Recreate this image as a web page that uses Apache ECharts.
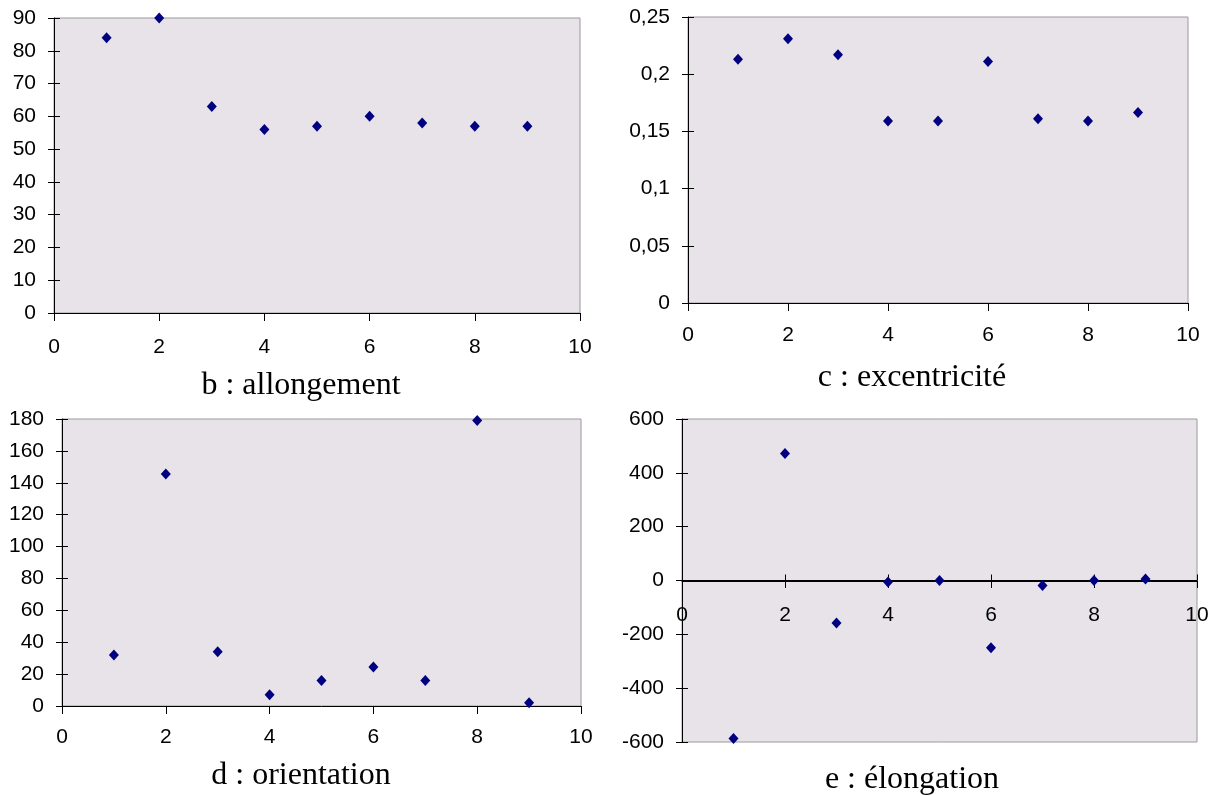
<!DOCTYPE html>
<html>
<head>
<meta charset="utf-8">
<script src="https://cdn.jsdelivr.net/npm/echarts@6/dist/echarts.min.js"></script>
<style>
html,body{margin:0;padding:0;background:#fff;}
#chart{width:1212px;height:796px;}
</style>
</head>
<body>
<div id="chart"></div>
<script>
// ---- data ----
var xValues = [1, 2, 3, 4, 5, 6, 7, 8, 9];
var allongement = [84, 90, 63, 56, 57, 60, 58, 57, 57];
var excentricite = [0.213, 0.231, 0.217, 0.159, 0.159, 0.211, 0.161, 0.159, 0.1665];
var orientation = [32, 145.5, 34, 7, 16, 24.5, 16, 179, 2];
var elongation = [-587, 472, -158, -6, 0, -250, -19, 0, 6];
var titles = ['b : allongement', 'c : excentricité', 'd : orientation', 'e : élongation'];

function pairs(ys) { return xValues.map(function (x, i) { return [x, ys[i]]; }); }

var chart = echarts.init(document.getElementById('chart'), null, {renderer: 'canvas'});

var labelFont = {fontFamily: 'Liberation Sans, Arial, sans-serif', fontSize: 21, color: '#000'};
var plotBg = '#e7e3e8';

var grids = [
  {left: 54, top: 18, width: 526, height: 295},
  {left: 688, top: 17, width: 500, height: 286},
  {left: 62, top: 419, width: 519, height: 287},
  {left: 682, top: 419, width: 515, height: 323}
];
var yCfg = [
  {min: 0, max: 90, interval: 10, fmt: function (v) { return String(v); }},
  {min: 0, max: 0.25, interval: 0.05, fmt: function (v) { return String(+v.toFixed(2)).replace('.', ','); }},
  {min: 0, max: 180, interval: 20, fmt: function (v) { return String(v); }},
  {min: -600, max: 600, interval: 200, fmt: function (v) { return String(v); }}
];
var seriesData = [allongement, excentricite, orientation, elongation];
var titlePos = [[301, 370], [912, 362], [301, 760], [912, 764]];
var xLabelMargin = [24, 22, 21, 24];

var option = {
  backgroundColor: '#fff',
  animation: false,
  title: [],
  grid: [],
  xAxis: [],
  yAxis: [],
  series: []
};

grids.forEach(function (g, i) {
  option.grid.push({
    left: g.left, top: g.top, width: g.width, height: g.height,
    show: true, backgroundColor: plotBg, borderColor: '#9a9a9a', borderWidth: 1
  });
  var isE = (i === 3);
  option.xAxis.push({
    type: 'value', gridIndex: i, min: 0, max: 10, interval: 2,
    axisLine: {show: true, onZero: true, lineStyle: {color: '#000', width: 1}},
    axisTick: {show: true, inside: isE, length: isE ? 6 : 8, lineStyle: {color: '#000'}},
    axisLabel: Object.assign({show: !isE, margin: xLabelMargin[i]}, labelFont),
    splitLine: {show: false}
  });
  option.yAxis.push({
    type: 'value', gridIndex: i, min: yCfg[i].min, max: yCfg[i].max, interval: yCfg[i].interval,
    axisLine: {show: true, lineStyle: {color: '#000', width: 1}},
    axisTick: {show: true, length: 6, lineStyle: {color: '#000'}},
    axisLabel: Object.assign({margin: 18, formatter: yCfg[i].fmt}, labelFont),
    splitLine: {show: false}
  });
  option.series.push({
    type: 'scatter', xAxisIndex: i, yAxisIndex: i,
    symbol: 'diamond', symbolSize: [10, 11],
    itemStyle: {color: '#000080', opacity: 1},
    data: pairs(seriesData[i])
  });
  option.title.push({
    text: titles[i], left: titlePos[i][0], top: titlePos[i][1], textAlign: 'center', padding: 0,
    textStyle: {fontFamily: 'Liberation Serif, Times New Roman, serif', fontSize: 32, fontWeight: 'normal', color: '#000'}
  });
});

// inside-half ticks on the y axes (crossing ticks)
grids.forEach(function (g, i) {
  option.yAxis.push({
    type: 'value', gridIndex: i, min: yCfg[i].min, max: yCfg[i].max, interval: yCfg[i].interval,
    position: 'left',
    axisLine: {show: false},
    axisTick: {show: true, inside: true, length: 6, lineStyle: {color: '#000'}},
    axisLabel: {show: false},
    splitLine: {show: false}
  });
});

// overlay grid whose bottom edge is the zero line of the élongation panel:
// carries the x tick labels and the downward half of the crossing ticks
var eg = grids[3];
var eZeroHeight = Math.round(eg.height / 2);
option.grid.push({left: eg.left, top: eg.top, width: eg.width, height: eZeroHeight, show: false});
option.xAxis.push({
  type: 'value', gridIndex: 4, min: 0, max: 10, interval: 2,
  axisLine: {show: true, onZero: false, lineStyle: {color: '#000', width: 1}},
  axisTick: {show: true, length: 7, lineStyle: {color: '#000'}},
  axisLabel: Object.assign({margin: xLabelMargin[3]}, labelFont),
  splitLine: {show: false}
});
option.yAxis.push({
  type: 'value', gridIndex: 4, min: 0, max: 1, show: false
});

chart.setOption(option);
</script>
</body>
</html>
